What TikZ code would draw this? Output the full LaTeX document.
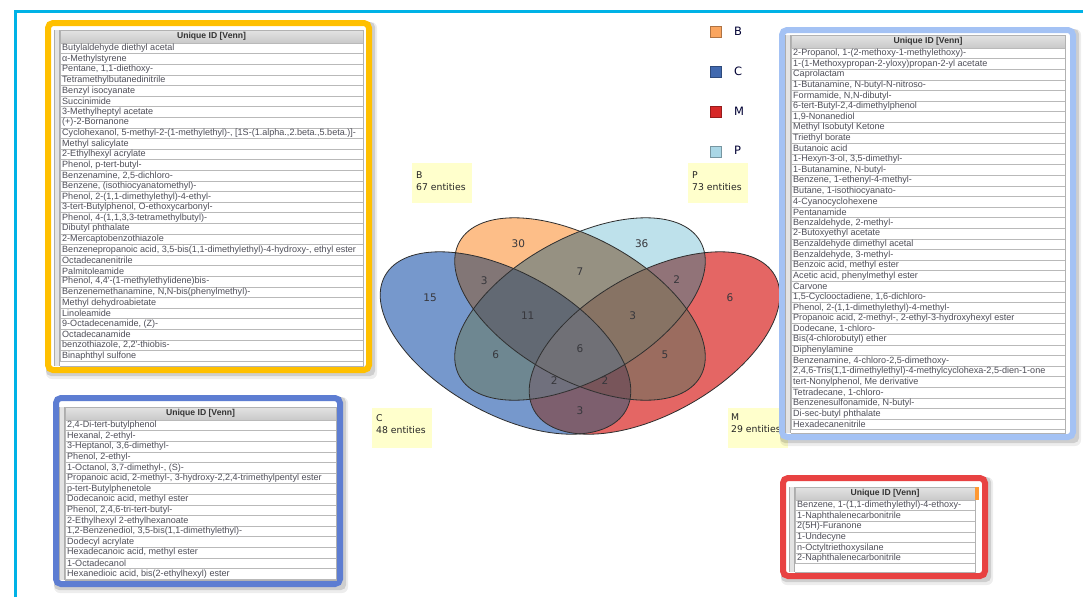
\documentclass[tikz,border=0pt]{standalone}
\usepackage{fontspec}
\setmainfont{DejaVu Sans}
\newfontfamily\tabfont{Liberation Sans}
\definecolor{cyanline}{RGB}{0,178,230}
\definecolor{fyellow}{RGB}{255,192,0}
\definecolor{flblue}{RGB}{164,194,244}
\definecolor{fblue}{RGB}{93,125,210}
\definecolor{fred}{RGB}{232,66,66}
\definecolor{lblbg}{RGB}{255,255,204}
\definecolor{numtext}{RGB}{55,55,60}
\definecolor{rowtxt}{RGB}{78,78,88}
\definecolor{rB}{RGB}{253,190,136}
\definecolor{rP}{RGB}{190,225,235}
\definecolor{rC}{RGB}{118,152,204}
\definecolor{rM}{RGB}{228,102,100}
\definecolor{rBP}{RGB}{150,145,130}
\definecolor{rBC}{RGB}{130,118,118}
\definecolor{rPM}{RGB}{145,115,120}
\definecolor{rBCP}{RGB}{98,105,115}
\definecolor{rBPM}{RGB}{135,115,100}
\definecolor{rCP}{RGB}{110,135,145}
\definecolor{rBCMP}{RGB}{112,112,118}
\definecolor{rBM}{RGB}{155,108,95}
\definecolor{rCPM}{RGB}{112,112,125}
\definecolor{rBCM}{RGB}{120,85,90}
\definecolor{rCM}{RGB}{125,95,110}
\definecolor{legB}{RGB}{250,165,95}
\definecolor{legC}{RGB}{65,105,175}
\definecolor{legM}{RGB}{215,40,40}
\definecolor{legP}{RGB}{170,215,230}

\newcommand\ClipIn[5]{\clip (#1,#2) ellipse [x radius=#3pt, y radius=#4pt, rotate=#5];}
\newcommand\ClipOut[5]{\clip (#1-2000,#2-2000) rectangle (#1+2000,#2+2000) (#1,#2) ellipse [x radius=#3pt, y radius=#4pt, rotate=#5];}
\newcommand\SB[1]{\csname Clip#1\endcsname{580}{309}{138}{70.5}{-29.2}}
\newcommand\SP[1]{\csname Clip#1\endcsname{580}{309}{138}{70.5}{29.2}}
\newcommand\SC[1]{\csname Clip#1\endcsname{505.5}{343}{138}{70.5}{-29.2}}
\newcommand\SM[1]{\csname Clip#1\endcsname{654.5}{343}{138}{70.5}{29.2}}
\newcommand\Reg[5]{\begin{scope}[even odd rule]\SB{#1}\SC{#2}\SM{#3}\SP{#4}\fill[#5] (350,200) rectangle (810,460);\end{scope}}

\newcommand\VTab[9]{%
  \fill[black,opacity=.07,rounded corners=6pt] (#1+1,#2+2) rectangle (#3+5,#4+6);
  \fill[black,opacity=.13,rounded corners=5pt] (#1+1,#2+2) rectangle (#3+3,#4+3);
  \draw[line width=6pt, draw=#5, fill=white, rounded corners=5pt] (#1+3,#2+3) rectangle (#3-3,#4-3);
  \fill[gray!22] (#6-6,#7) rectangle (#6,#4-7);
  \draw[gray!65, line width=.8pt] (#6-5.5,#7) -- (#6-5.5,#4-7);
  \draw[gray!65, line width=.6pt] (#6-.5,#7) -- (#6-.5,#4-7);
  \shade[top color=gray!22, bottom color=gray!42] (#6,#7) rectangle (#8,#7+13);
  \draw[gray!60, line width=.5pt] (#6,#7) rectangle (#8,#7+13);
  \node[hdrtext] (\tabname-h) at ({(#6+#8)/2},#7+6.5) {Unique ID [Venn]};
  \foreach \t [count=\i] in {#9} {
    \draw[rowline] (#6,{#7+13+(\i-1)*10.6}) rectangle (#8,{#7+13+\i*10.6});
    \node[rowtext] (\tabname-\i) at (#6+2,{#7+13+(\i-.5)*10.6}) {\t};
  }
  \draw[gray!60, line width=.5pt] (#6,#4-7) -- (#8,#4-7) -- (#8,#7);
}

\tikzset{
  hdrtext/.style={inner sep=0pt, font=\tabfont\bfseries\fontsize{8.6}{9}\selectfont, text=black!80},
  rowtext/.style={inner sep=0pt, anchor=west, font=\tabfont\fontsize{9.05}{10}\selectfont, text=rowtxt},
  rowline/.style={draw=gray!55, line width=.5pt},
  vline/.style={draw=black!82, line width=.8pt},
  num/.style={inner sep=0pt, font=\fontsize{10.5}{12}\selectfont, text=numtext},
  lblbox/.style={fill=lblbg, draw=none},
  lbltext/.style={inner sep=0pt, anchor=north west, align=left, font=\fontsize{9.3}{12}\selectfont, text=black!85},
  legsq/.style={minimum size=11pt, inner sep=0pt, line width=.8pt},
  legtext/.style={inner sep=0pt, anchor=west, font=\fontsize{11.5}{13}\selectfont, text=black!80!blue}
}

\begin{document}
\begin{tikzpicture}[x=1pt,y=-1pt]
\useasboundingbox (0,0) rectangle (1083,597);
\fill[white] (0,0) rectangle (1083,597);
\draw[line width=3.5pt, draw=cyanline] (15.5,597) -- (15.5,11.5) -- (1083,11.5);

% label boxes
\fill[lblbox] (412,163) rectangle (472,203);
\fill[lblbox] (688,163) rectangle (748,203);
\fill[lblbox] (372,408) rectangle (432,448);
\fill[lblbox] (728,408) rectangle (788,448);
\node[lbltext] (labB) at (416,172) {B\\67 entities};
\node[lbltext] (labP) at (692,172) {P\\73 entities};
\node[lbltext] (labC) at (376,414) {C\\48 entities};
\node[lbltext] (labM) at (731,414) {M\\29 entities};

% Venn regions
\Reg{In}{Out}{Out}{Out}{rB}
\Reg{Out}{Out}{Out}{In}{rP}
\Reg{Out}{In}{Out}{Out}{rC}
\Reg{Out}{Out}{In}{Out}{rM}
\Reg{In}{Out}{Out}{In}{rBP}
\Reg{In}{In}{Out}{Out}{rBC}
\Reg{Out}{Out}{In}{In}{rPM}
\Reg{In}{In}{Out}{In}{rBCP}
\Reg{In}{Out}{In}{In}{rBPM}
\Reg{Out}{In}{Out}{In}{rCP}
\Reg{In}{In}{In}{In}{rBCMP}
\Reg{In}{Out}{In}{Out}{rBM}
\Reg{Out}{In}{In}{In}{rCPM}
\Reg{In}{In}{In}{Out}{rBCM}
\Reg{Out}{In}{In}{Out}{rCM}
\draw[vline] (580,309) ellipse [x radius=138pt, y radius=70.5pt, rotate=-29.2];
\draw[vline] (580,309) ellipse [x radius=138pt, y radius=70.5pt, rotate=29.2];
\draw[vline] (505.5,343) ellipse [x radius=138pt, y radius=70.5pt, rotate=-29.2];
\draw[vline] (654.5,343) ellipse [x radius=138pt, y radius=70.5pt, rotate=29.2];

% numbers
\node[num] (nB) at (518.3,243.3) {30};
\node[num] (nP) at (641.7,243.3) {36};
\node[num] (nC) at (430,297.7) {15};
\node[num] (nM) at (730,297.7) {6};
\node[num] (nBC) at (484.3,281) {3};
\node[num] (nBP) at (580,271.7) {7};
\node[num] (nPM) at (676.7,280) {2};
\node[num] (nBCP) at (527.7,316) {11};
\node[num] (nBPM) at (632.7,316) {3};
\node[num] (nCP) at (495.7,355) {6};
\node[num] (nAll) at (580,348.3) {6};
\node[num] (nBM) at (665,355) {5};
\node[num] (nCPM) at (554.3,381) {2};
\node[num] (nBCM) at (605,381) {2};
\node[num] (nCM) at (580,411) {3};

% legend
\node[legsq, fill=legB, draw=legB!70!black] (sqB) at (716,32) {};
\node[legsq, fill=legC, draw=legC!70!black] (sqC) at (716,72) {};
\node[legsq, fill=legM, draw=legM!70!black] (sqM) at (716,112) {};
\node[legsq, fill=legP, draw=legP!70!black] (sqP) at (716,152) {};
\node[legtext] (ltB) at (734,31) {B};
\node[legtext] (ltC) at (734,71) {C};
\node[legtext] (ltM) at (734,111) {M};
\node[legtext] (ltP) at (734,150) {P};

% tables
\def\tabname{tY}
\VTab{45}{20}{372}{373}{fyellow}{60}{30}{363}{{Butylaldehyde diethyl acetal},{α-Methylstyrene},{Pentane, 1,1-diethoxy-},{Tetramethylbutanedinitrile},{Benzyl isocyanate},{Succinimide},{3-Methylheptyl acetate},{(+)-2-Bornanone},{Cyclohexanol, 5-methyl-2-(1-methylethyl)-, [1S-(1.alpha.,2.beta.,5.beta.)]-},{Methyl salicylate},{2-Ethylhexyl acrylate},{Phenol, p-tert-butyl-},{Benzenamine, 2,5-dichloro-},{Benzene, (isothiocyanatomethyl)-},{Phenol, 2-(1,1-dimethylethyl)-4-ethyl-},{3-tert-Butylphenol, O-ethoxycarbonyl-},{Phenol, 4-(1,1,3,3-tetramethylbutyl)-},{Dibutyl phthalate},{2-Mercaptobenzothiazole},{Benzenepropanoic acid, 3,5-bis(1,1-dimethylethyl)-4-hydroxy-, ethyl ester},{Octadecanenitrile},{Palmitoleamide},{Phenol, 4,4'-(1-methylethylidene)bis-},{Benzenemethanamine, N,N-bis(phenylmethyl)-},{Methyl dehydroabietate},{Linoleamide},{9-Octadecenamide, (Z)-},{Octadecanamide},{benzothiazole, 2,2'-thiobis-},{Binaphthyl sulfone}}

\def\tabname{tL}
\VTab{779}{27}{1076}{440}{flblue}{791}{35}{1065}{{2-Propanol, 1-(2-methoxy-1-methylethoxy)-},{1-(1-Methoxypropan-2-yloxy)propan-2-yl acetate},{Caprolactam},{1-Butanamine, N-butyl-N-nitroso-},{Formamide, N,N-dibutyl-},{6-tert-Butyl-2,4-dimethylphenol},{1,9-Nonanediol},{Methyl Isobutyl Ketone},{Triethyl borate},{Butanoic acid},{1-Hexyn-3-ol, 3,5-dimethyl-},{1-Butanamine, N-butyl-},{Benzene, 1-ethenyl-4-methyl-},{Butane, 1-isothiocyanato-},{4-Cyanocyclohexene},{Pentanamide},{Benzaldehyde, 2-methyl-},{2-Butoxyethyl acetate},{Benzaldehyde dimethyl acetal},{Benzaldehyde, 3-methyl-},{Benzoic acid, methyl ester},{Acetic acid, phenylmethyl ester},{Carvone},{1,5-Cyclooctadiene, 1,6-dichloro-},{Phenol, 2-(1,1-dimethylethyl)-4-methyl-},{Propanoic acid, 2-methyl-, 2-ethyl-3-hydroxyhexyl ester},{Dodecane, 1-chloro-},{Bis(4-chlorobutyl) ether},{Diphenylamine},{Benzenamine, 4-chloro-2,5-dimethoxy-},{2,4,6-Tris(1,1-dimethylethyl)-4-methylcyclohexa-2,5-dien-1-one},{tert-Nonylphenol, Me derivative},{Tetradecane, 1-chloro-},{Benzenesulfonamide, N-butyl-},{Di-sec-butyl phthalate},{Hexadecanenitrile}}

\def\tabname{tB}
\VTab{53}{395}{343}{587}{fblue}{65}{407}{336}{{2,4-Di-tert-butylphenol},{Hexanal, 2-ethyl-},{3-Heptanol, 3,6-dimethyl-},{Phenol, 2-ethyl-},{1-Octanol, 3,7-dimethyl-, (S)-},{Propanoic acid, 2-methyl-, 3-hydroxy-2,2,4-trimethylpentyl ester},{p-tert-Butylphenetole},{Dodecanoic acid, methyl ester},{Phenol, 2,4,6-tri-tert-butyl-},{2-Ethylhexyl 2-ethylhexanoate},{1,2-Benzenediol, 3,5-bis(1,1-dimethylethyl)-},{Dodecyl acrylate},{Hexadecanoic acid, methyl ester},{1-Octadecanol},{Hexanedioic acid, bis(2-ethylhexyl) ester}}

\def\tabname{tR}
\VTab{780}{475}{988}{579}{fred}{795}{487}{975}{{Benzene, 1-(1,1-dimethylethyl)-4-ethoxy-},{1-Naphthalenecarbonitrile},{2(5H)-Furanone},{1-Undecyne},{n-Octyltriethoxysilane},{2-Naphthalenecarbonitrile}}
\fill[orange!80] (975,487) rectangle (978.5,500);
\end{tikzpicture}
\end{document}
